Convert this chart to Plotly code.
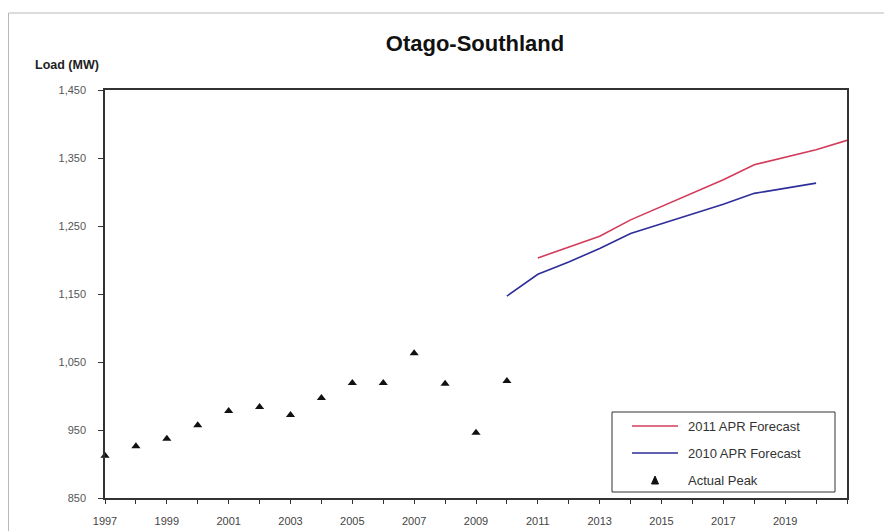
import plotly.graph_objects as go

actual_years = list(range(1997, 2011))
actual_peak = [912, 926, 937, 957, 978, 984, 972, 997, 1019, 1019, 1063, 1018, 946, 1022]

f2011_years = list(range(2011, 2022))
f2011_values = [1203, 1219, 1235, 1259, 1279, 1299, 1318, 1340, 1351, 1362, 1376]

f2010_years = list(range(2010, 2021))
f2010_values = [1147, 1179, 1197, 1217, 1239, 1253, 1268, 1282, 1298, 1306, 1313]

series_names = ["2011 APR Forecast", "2010 APR Forecast", "Actual Peak"]
series_colors = ["#d23c5a", "#2e2e9a", "#111111"]

all_years = list(range(1997, 2022))
x_ticktext = [str(y) if (y - 1997) % 2 == 0 and y <= 2019 else "" for y in all_years]
y_ticks = [850, 950, 1050, 1150, 1250, 1350, 1450]
y_ticktext = [f"{v:,}" for v in y_ticks]

# figure geometry (page body has an 8px margin)
W, H = 884, 523
ML, MR, MT, MB = 97, 45, 82, 33
PW, PH = W - ML - MR, H - MT - MB


def px(sx):  # screen x -> paper x
    return (sx - 8 - ML) / PW


def py(sy):  # screen y -> paper y
    return (H - MB - (sy - 8)) / PH


fig = go.Figure()
fig.add_trace(go.Scatter(x=f2011_years, y=f2011_values, mode="lines",
                         name=series_names[0], showlegend=False,
                         line=dict(color=series_colors[0], width=1.6)))
fig.add_trace(go.Scatter(x=f2010_years, y=f2010_values, mode="lines",
                         name=series_names[1], showlegend=False,
                         line=dict(color=series_colors[1], width=1.6)))
fig.add_trace(go.Scatter(x=actual_years, y=actual_peak, mode="markers",
                         name=series_names[2], cliponaxis=False, showlegend=False,
                         marker=dict(symbol="triangle-up", size=8, color=series_colors[2])))

# manual legend
shapes = [
    dict(type="rect", xref="paper", yref="paper", x0=px(612), x1=px(835), y0=py(492), y1=py(412),
         line=dict(color="#333333", width=1), fillcolor="white", layer="above"),
    dict(type="line", xref="paper", yref="paper", x0=px(632), x1=px(678), y0=py(426), y1=py(426),
         line=dict(color=series_colors[0], width=1.6), layer="above"),
    dict(type="line", xref="paper", yref="paper", x0=px(632), x1=px(678), y0=py(453), y1=py(453),
         line=dict(color=series_colors[1], width=1.6), layer="above"),
    dict(type="path", xref="paper", yref="paper",
         path=f"M {px(651.5)} {py(484)} L {px(658.5)} {py(484)} L {px(655)} {py(476)} Z",
         line=dict(color=series_colors[2], width=1), fillcolor=series_colors[2], layer="above"),
    # faint outer chart border
    dict(type="rect", xref="paper", yref="paper", x0=px(8.5), x1=px(900), y0=py(540), y1=py(13),
         line=dict(color="#b8b8b8", width=1), layer="below"),
]
annotations = [
    dict(text="<b>Load (MW)</b>", x=px(33), y=py(65), xref="paper", yref="paper",
         xanchor="left", yanchor="middle", showarrow=False,
         font=dict(size=12.5, color="#222222")),
]
for name, sy in zip(series_names, [426, 453, 480]):
    annotations.append(dict(text=name, x=px(686), y=py(sy), xref="paper", yref="paper",
                            xanchor="left", yanchor="middle", showarrow=False,
                            font=dict(size=13, color="#333333")))

fig.update_layout(
    width=W, height=H,
    paper_bgcolor="white", plot_bgcolor="white",
    margin=dict(l=ML, r=MR, t=MT, b=MB),
    font=dict(family="Liberation Sans, Arial, sans-serif", color="#444444", size=10),
    title=dict(text="<b>Otago-Southland</b>", x=(475 - 8) / W, xanchor="center",
               y=1 - (43 - 8) / H, yanchor="middle",
               font=dict(size=22, color="#111111")),
    showlegend=False,
    annotations=annotations,
    shapes=shapes,
)

fig.update_xaxes(range=[1997, 2021], tickvals=all_years, ticktext=x_ticktext,
                 ticks="outside", ticklen=4, tickcolor="#333333",
                 showline=True, linecolor="#333333", linewidth=1.5, mirror=True,
                 showgrid=False, zeroline=False, ticklabelstandoff=8, automargin=False,
                 tickfont=dict(size=11, color="#444444"))
fig.update_yaxes(range=[850, 1450], tickvals=y_ticks, ticktext=y_ticktext,
                 ticks="outside", ticklen=5, tickcolor="#333333",
                 showline=True, linecolor="#333333", linewidth=1.5, mirror=True,
                 showgrid=False, zeroline=False, ticklabelstandoff=10, automargin=False,
                 tickfont=dict(size=11, color="#555555"))

fig.write_html("out.html")
